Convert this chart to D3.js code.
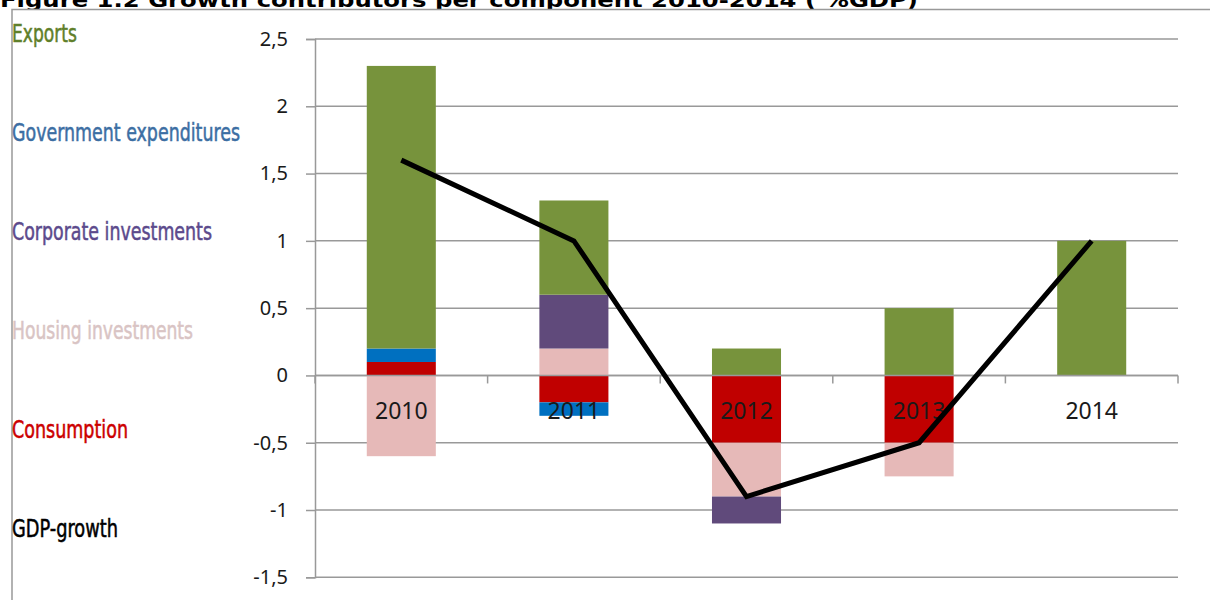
<!DOCTYPE html>
<html>
<head>
<meta charset="utf-8">
<script src="https://cdn.jsdelivr.net/npm/d3@7"></script>
<style>
  html, body { margin: 0; padding: 0; background: #fff; }
  svg { display: block; }
</style>
</head>
<body>
<svg id="chart" width="1210" height="600"></svg>
<script>
const years = ["2010", "2011", "2012", "2013", "2014"];
const consumption = [0.1, -0.2, -0.5, -0.5, 0];
const government = [0.1, -0.1, 0, 0, 0];
const housing = [-0.6, 0.2, -0.4, -0.25, 0];
const corporate = [0, 0.4, -0.2, 0, 0];
const exportsVals = [2.1, 0.7, 0.2, 0.5, 1.0];
const gdpGrowth = [1.6, 1.0, -0.9, -0.5, 1.0];
const yTicks = [-1.5, -1, -0.5, 0, 0.5, 1, 1.5, 2, 2.5];
const seriesKeys = ["Consumption", "Government expenditures", "Housing investments", "Corporate investments", "Exports"];
const seriesColors = ["#C00000", "#0070C0", "#E6B9B8", "#604A7B", "#77933C"];
const legendLabels = ["Exports", "Government expenditures", "Corporate investments", "Housing investments", "Consumption", "GDP-growth"];
const legendColors = ["#5F7F2A", "#3C6EA3", "#5C4A8C", "#D9C4C4", "#CC0000", "#000000"];
const title = "Figure 1.2 Growth contributors per component 2010-2014 ( %GDP)";

const svg = d3.select("#chart");
const plotL = 315, plotR = 1178, plotT = 39, plotB = 577.3;

const rows = years.map((yr, i) => ({
  year: yr,
  "Consumption": consumption[i],
  "Government expenditures": government[i],
  "Housing investments": housing[i],
  "Corporate investments": corporate[i],
  "Exports": exportsVals[i]
}));

const x = d3.scaleBand().domain(years).range([plotL, plotR]).padding(0);
const y = d3.scaleLinear().domain([-1.5, 2.5]).range([plotB, plotT]);
const color = d3.scaleOrdinal().domain(seriesKeys).range(seriesColors);

// title (partially hidden behind frame, as in the reference)
svg.append("text")
  .attr("x", 0).attr("y", 7)
  .attr("font-family", "DejaVu Sans, Verdana, sans-serif")
  .attr("font-weight", "bold")
  .attr("font-size", 20)
  .attr("textLength", 918)
  .attr("lengthAdjust", "spacingAndGlyphs")
  .attr("fill", "#000")
  .text(title);

// frame
svg.append("rect")
  .attr("x", 12).attr("y", 9.5).attr("width", 1210).attr("height", 600)
  .attr("fill", "#fff").attr("stroke", "#999").attr("stroke-width", 1.5);

// gridlines
svg.append("g").selectAll("line").data(yTicks).join("line")
  .attr("x1", plotL).attr("x2", plotR)
  .attr("y1", d => y(d)).attr("y2", d => y(d))
  .attr("stroke", "#999").attr("stroke-width", 1.5);

// y axis
const locale = d3.formatLocale({decimal: ",", thousands: ".", grouping: [3], currency: ["", ""], minus: "-"});
const fmt = locale.format("~f");
const yAxis = svg.append("g")
  .attr("transform", `translate(${plotL},0)`)
  .call(d3.axisLeft(y).tickValues(yTicks).tickSize(9).tickPadding(18).tickFormat(fmt));
yAxis.select(".domain").attr("stroke", "#999").attr("stroke-width", 1.5);
yAxis.selectAll(".tick line").attr("stroke", "#999").attr("stroke-width", 1.5);
yAxis.selectAll(".tick text")
  .attr("font-family", "Noto Sans, Liberation Sans, sans-serif")
  .attr("font-size", 20).attr("fill", "#1a1a1a");

// stacked bars
const stacked = d3.stack().keys(seriesKeys).offset(d3.stackOffsetDiverging)(rows);
const barW = x.bandwidth() * 0.4;
svg.append("g").selectAll("g").data(stacked).join("g")
  .attr("fill", d => color(d.key))
  .selectAll("rect").data(d => d).join("rect")
  .attr("x", d => x(d.data.year) + (x.bandwidth() - barW) / 2)
  .attr("width", barW)
  .attr("y", d => y(Math.max(d[0], d[1])))
  .attr("height", d => Math.abs(y(d[0]) - y(d[1])));

// x axis (at zero)
svg.append("line")
  .attr("x1", plotL).attr("x2", plotR)
  .attr("y1", y(0)).attr("y2", y(0))
  .attr("stroke", "#999").attr("stroke-width", 1.5);
const boundaries = years.map(d => x(d)).concat([x.range()[1]]);
svg.append("g").selectAll("line").data(boundaries).join("line")
  .attr("x1", d => d).attr("x2", d => d)
  .attr("y1", y(0)).attr("y2", y(0) + 8)
  .attr("stroke", "#999").attr("stroke-width", 1.5);
svg.append("g").selectAll("text").data(years).join("text")
  .attr("x", d => x(d) + x.bandwidth() / 2)
  .attr("y", y(0) + 44)
  .attr("text-anchor", "middle")
  .attr("font-family", "Noto Sans, Liberation Sans, sans-serif")
  .attr("font-size", 23)
  .attr("fill", "#1a1a1a")
  .text(d => d);

// GDP line
const line = d3.line()
  .x((d, i) => x(years[i]) + x.bandwidth() / 2)
  .y(d => y(d));
svg.append("path")
  .datum(gdpGrowth)
  .attr("d", line)
  .attr("fill", "none")
  .attr("stroke", "#000")
  .attr("stroke-width", 5)
  .attr("stroke-linejoin", "miter");

// legend text
const legendW = [65, 228, 200, 181, 116, 106];
svg.append("g").selectAll("text").data(legendLabels).join("text")
  .attr("x", 12)
  .attr("y", (d, i) => 42 + i * 99)
  .attr("font-family", "Liberation Sans Narrow, DejaVu Sans Condensed, sans-serif")
  .attr("font-size", 24)
  .attr("textLength", (d, i) => legendW[i])
  .attr("lengthAdjust", "spacingAndGlyphs")
  .attr("fill", (d, i) => legendColors[i])
  .attr("stroke", (d, i) => legendColors[i])
  .attr("stroke-width", 0.5)
  .text(d => d);
</script>
</body>
</html>
